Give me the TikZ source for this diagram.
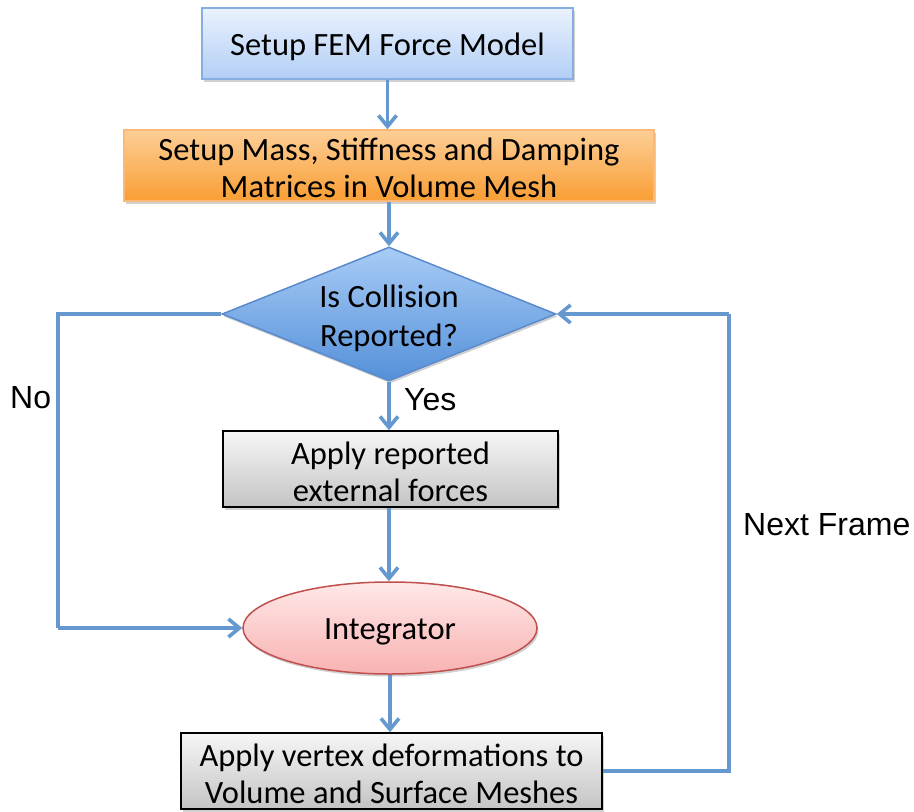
\documentclass[tikz,border=0pt]{standalone}
\usepackage{fontspec}
\setmainfont{Carlito}
\newfontfamily\labelfont{Liberation Sans}
\usetikzlibrary{shapes.geometric,arrows.meta,shadows}

\definecolor{flowline}{RGB}{100,152,206}
\definecolor{blueTop}{RGB}{234,242,253}
\definecolor{blueBot}{RGB}{178,206,246}
\definecolor{blueEdge}{RGB}{135,174,224}
\definecolor{orTop}{RGB}{253,206,150}
\definecolor{orBot}{RGB}{249,158,52}
\definecolor{orEdge}{RGB}{250,185,120}
\definecolor{dmTop}{RGB}{168,204,246}
\definecolor{dmBot}{RGB}{84,144,216}
\definecolor{dmEdge}{RGB}{90,138,204}
\definecolor{grTop}{RGB}{246,246,246}
\definecolor{grBot}{RGB}{196,196,196}
\definecolor{pkTop}{RGB}{255,232,232}
\definecolor{pkBot}{RGB}{248,178,178}
\definecolor{pkEdge}{RGB}{192,80,77}

\tikzset{
  shade/.style={drop shadow={shadow xshift=1.5pt, shadow yshift=-2.5pt,
    opacity=0.18, fill=black}},
  shapebase/.style={inner sep=0pt, line width=1.5pt, shade},
  txt/.style={font=\fontsize{32.5}{37}\selectfont, align=center, inner sep=0pt},
  bluebox/.style={shapebase, rectangle, draw=blueEdge,
    top color=blueTop, bottom color=blueBot, minimum width=371pt, minimum height=71pt},
  orangebox/.style={shapebase, rectangle, draw=orEdge,
    top color=orTop, bottom color=orBot, minimum width=530pt, minimum height=71pt},
  decision/.style={shapebase, diamond, draw=dmEdge,
    top color=dmTop, bottom color=dmBot, aspect=2.49,
    minimum width=334pt, minimum height=134pt},
  graybox/.style={shapebase, rectangle, draw=black,
    top color=grTop, bottom color=grBot, minimum height=76pt},
  oval/.style={shapebase, ellipse, draw=pkEdge,
    top color=pkTop, bottom color=pkBot, minimum width=294pt, minimum height=92pt},
  flow/.style={draw=flowline, line width=3.6pt,
    -{Straight Barb[length=11pt,width=18pt,line width=3.6pt]}},
  link/.style={draw=flowline, line width=3.6pt},
  tag/.style={font=\labelfont\fontsize{32}{36}\selectfont, inner sep=0pt}
}

\begin{document}
\begin{tikzpicture}[x=1pt,y=-1pt]
  \useasboundingbox (0,0) rectangle (914,812);

  % process step shapes
  \node[bluebox]   (fem)    at (387.5,43.5) {};
  \node[orangebox] (mats)   at (389,165.5)  {};
  \node[decision]  (coll)   at (389,314)    {};
  \node[graybox, minimum width=335pt] (ext) at (390.5,469) {};
  \node[oval]      (integ)  at (390,628)    {};
  \node[graybox, minimum width=421pt] (deform) at (391.5,771) {};

  % step texts, set a little below the geometric centre
  \node[txt] (femT)    at ([yshift=-3pt]fem.center)    {Setup FEM Force Model};
  \node[txt] (matsT)   at ([yshift=-2.5pt]mats.center) {Setup Mass, Stiffness and Damping\\Matrices in Volume Mesh};
  \node[txt, font=\fontsize{32.5}{39}\selectfont] (collT) at ([yshift=-4pt]coll.center) {Is Collision\\Reported?};
  \node[txt] (extT)    at ([yshift=-2.5pt]ext.center)  {Apply reported\\external forces};
  \node[txt] (integT)  at ([yshift=-3.5pt]integ.center) {Integrator};
  \node[txt] (deformT) at ([yshift=-2.5pt]deform.center) {Apply vertex deformations to\\Volume and Surface Meshes};

  % loop corners
  \coordinate (nl) at (58,314);
  \coordinate (nb) at (58,628);
  \coordinate (rb) at (729,771);
  \coordinate (rt) at (729,314);

  % straight flow
  \draw[flow] (fem.south) -- (mats.north -| fem.south);
  \draw[flow] (mats.south -| coll.north) -- (coll.north);
  \draw[flow] (coll.south) -- (ext.north -| coll.south);
  \draw[flow] (ext.south -| coll.south) -- (integ.north -| coll.south);
  \draw[flow] (integ.south) -- (deform.north -| integ.south);

  % "No" branch and frame loop
  \draw[link] (coll.west) -- (nl) -- (nb);
  \draw[flow] (nb) -- (integ.west);
  \draw[link] (deform.east |- rb) -- (rb) -- (rt);
  \draw[flow] (rt) -- (coll.east);

  % branch labels
  \node[tag, anchor=west] (yes)  at (404,400) {Yes};
  \node[tag, anchor=west] (no)   at (10,398)  {No};
  \node[tag, anchor=west] (next) at (743,525) {Next Frame};
\end{tikzpicture}
\end{document}
